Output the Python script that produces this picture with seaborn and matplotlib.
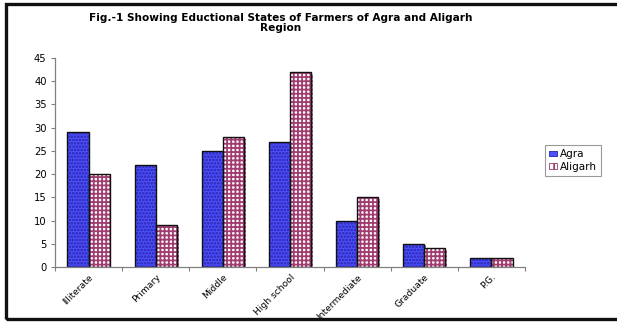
import matplotlib
matplotlib.use("Agg")
import matplotlib.pyplot as plt
import matplotlib.patches as mpatches
import matplotlib.patheffects as pe
import seaborn as sns
import pandas as pd

# Educational level of farmers in the two regions
categories = ["Illiterate", "Primary", "Middle", "High school",
              "Intermediate", "Graduate", "P.G."]
agra = [29, 22, 25, 27, 10, 5, 2]
aligarh = [20, 9, 28, 42, 15, 4, 2]
regions = ["Agra", "Aligarh"]
yticks = [0, 5, 10, 15, 20, 25, 30, 35, 40, 45]

df = pd.DataFrame({
    "Level": categories * 2,
    "Region": ["Agra"] * len(categories) + ["Aligarh"] * len(categories),
    "Farmers": agra + aligarh,
})

sns.set_theme(style="white")
plt.rcParams["font.family"] = ["DejaVu Sans"]
plt.rcParams["hatch.linewidth"] = 1.3
plt.rcParams["text.color"] = "black"
plt.rcParams["xtick.color"] = "black"
plt.rcParams["ytick.color"] = "black"

W, H = 617, 326
fig = plt.figure(figsize=(W / 100, H / 100), dpi=100)
ax = fig.add_axes([55 / W, 1 - 267 / H, (525 - 55) / W, (267 - 58) / H])

sns.barplot(data=df, x="Level", y="Farmers", hue="Region", order=categories,
            hue_order=regions, width=0.63, gap=0, ax=ax, legend=False,
            palette=["#4b4bf5", "#ffffff"])

styles = {
    "Agra": dict(face="#4f4fff", hatch=".....", hcol="#2424a6"),
    "Aligarh": dict(face="#ffffff", hatch="++++", hcol="#a03c70"),
}
shadow = [pe.SimplePatchShadow(offset=(1.2, -1.2), shadow_rgbFace="#9a9a9a", alpha=0.8),
          pe.Normal()]
for container, reg in zip(ax.containers, regions):
    st = styles[reg]
    for bar in container:
        bar.set_facecolor(st["face"])
        bar.set_hatch(st["hatch"])
        bar.set_edgecolor(st["hcol"])
        bar.set_linewidth(0)
        bar.set_path_effects(shadow)
        outline = mpatches.Rectangle(bar.get_xy(), bar.get_width(), bar.get_height(),
                                     fill=False, edgecolor="#111111", linewidth=1.0,
                                     zorder=bar.get_zorder() + 0.1)
        ax.add_patch(outline)

ax.set_xlim(-0.5, len(categories) - 0.5)
ax.set_ylim(0, 45)
ax.set_yticks(yticks)
ax.set_xlabel("")
ax.set_ylabel("")
ax.set_xticks(range(len(categories)))
ax.set_xticklabels(categories, rotation=45, ha="right", rotation_mode="anchor",
                   fontsize=6.6)
ax.set_xticks([i + 0.5 for i in range(-1, len(categories))], minor=True)
ax.tick_params(axis="x", which="major", length=0, pad=4)
ax.tick_params(axis="x", which="minor", length=3, color="#808080", width=0.8,
               direction="out", bottom=True)
ax.tick_params(axis="y", length=3, color="#808080", width=0.8, direction="out",
               left=True, labelsize=7.2, pad=3)
for s in ["top", "right"]:
    ax.spines[s].set_visible(False)
for s in ["left", "bottom"]:
    ax.spines[s].set_color("#808080")
    ax.spines[s].set_linewidth(0.9)

fig.text(281 / W, 1 - 23 / H,
         "Fig.-1 Showing Eductional States of Farmers of Agra and Aligarh\nRegion",
         ha="center", va="center", fontsize=7.6, fontweight="bold",
         linespacing=0.95, color="black")

handles = []
for reg in regions:
    st = styles[reg]
    handles.append(mpatches.Patch(facecolor=st["face"], hatch=st["hatch"][:2],
                                  edgecolor=st["hcol"], linewidth=0.6, label=reg))
leg = fig.legend(handles=handles, loc="center", bbox_to_anchor=(573 / W, 1 - 160.5 / H),
                 fontsize=7.5, frameon=True, fancybox=False, handlelength=0.7,
                 handleheight=0.5, handletextpad=0.3, borderpad=0.45,
                 borderaxespad=0.0, labelspacing=0.25, edgecolor="#808080")
leg.get_frame().set_linewidth(0.8)
leg._legend_box.align = "left"

# Page frame around the figure
frame = mpatches.Rectangle((6 / W, 1 - 319 / H), 1.0, (319 - 4) / H,
                           transform=fig.transFigure, fill=False,
                           edgecolor="#111111", linewidth=2.4, clip_on=False)
fig.add_artist(frame)

fig.savefig("out.png", dpi=100, facecolor="white")
